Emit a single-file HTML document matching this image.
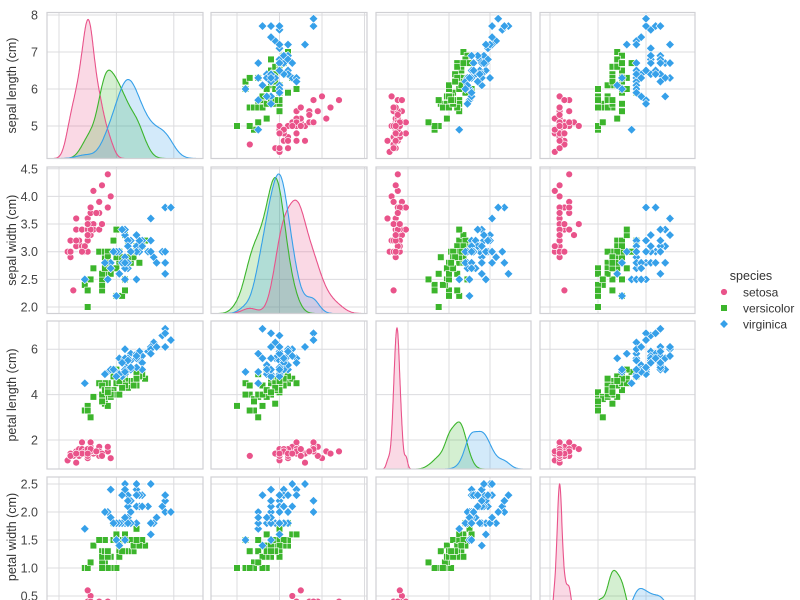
<!DOCTYPE html>
<html><head><meta charset="utf-8"><style>
html,body{margin:0;padding:0;background:#fff;}
svg{display:block;font-family:"Liberation Sans",sans-serif;}
</style></head><body>
<svg id="s" width="800" height="600" viewBox="0 0 800 600" xmlns="http://www.w3.org/2000/svg"></svg>
<script>
const raw={
setosa:`5.1,3.5,1.4,0.2;4.9,3.0,1.4,0.2;4.7,3.2,1.3,0.2;4.6,3.1,1.5,0.2;5.0,3.6,1.4,0.2;5.4,3.9,1.7,0.4;4.6,3.4,1.4,0.3;5.0,3.4,1.5,0.2;4.4,2.9,1.4,0.2;4.9,3.1,1.5,0.1;5.4,3.7,1.5,0.2;4.8,3.4,1.6,0.2;4.8,3.0,1.4,0.1;4.3,3.0,1.1,0.1;5.8,4.0,1.2,0.2;5.7,4.4,1.5,0.4;5.4,3.9,1.3,0.4;5.1,3.5,1.4,0.3;5.7,3.8,1.7,0.3;5.1,3.8,1.5,0.3;5.4,3.4,1.7,0.2;5.1,3.7,1.5,0.4;4.6,3.6,1.0,0.2;5.1,3.3,1.7,0.5;4.8,3.4,1.9,0.2;5.0,3.0,1.6,0.2;5.0,3.4,1.6,0.4;5.2,3.5,1.5,0.2;5.2,3.4,1.4,0.2;4.7,3.2,1.6,0.2;4.8,3.1,1.6,0.2;5.4,3.4,1.5,0.4;5.2,4.1,1.5,0.1;5.5,4.2,1.4,0.2;4.9,3.1,1.5,0.1;5.0,3.2,1.2,0.2;5.5,3.5,1.3,0.2;4.9,3.1,1.5,0.1;4.4,3.0,1.3,0.2;5.1,3.4,1.5,0.2;5.0,3.5,1.3,0.3;4.5,2.3,1.3,0.3;4.4,3.2,1.3,0.2;5.0,3.5,1.6,0.6;5.1,3.8,1.9,0.4;4.8,3.0,1.4,0.3;5.1,3.8,1.6,0.2;4.6,3.2,1.4,0.2;5.3,3.7,1.5,0.2;5.0,3.3,1.4,0.2`,
versicolor:`7.0,3.2,4.7,1.4;6.4,3.2,4.5,1.5;6.9,3.1,4.9,1.5;5.5,2.3,4.0,1.3;6.5,2.8,4.6,1.5;5.7,2.8,4.5,1.3;6.3,3.3,4.7,1.6;4.9,2.4,3.3,1.0;6.6,2.9,4.6,1.3;5.2,2.7,3.9,1.4;5.0,2.0,3.5,1.0;5.9,3.0,4.2,1.5;6.0,2.2,4.0,1.0;6.1,2.9,4.7,1.4;5.6,2.9,3.6,1.3;6.7,3.1,4.4,1.4;5.6,3.0,4.5,1.5;5.8,2.7,4.1,1.0;6.2,2.2,4.5,1.5;5.6,2.5,3.9,1.1;5.9,3.2,4.8,1.8;6.1,2.8,4.0,1.3;6.3,2.5,4.9,1.5;6.1,2.8,4.7,1.2;6.4,2.9,4.3,1.3;6.6,3.0,4.4,1.4;6.8,2.8,4.8,1.4;6.7,3.0,5.0,1.7;6.0,2.9,4.5,1.5;5.7,2.6,3.5,1.0;5.5,2.4,3.8,1.1;5.5,2.4,3.7,1.0;5.8,2.7,3.9,1.2;6.0,2.7,5.1,1.6;5.4,3.0,4.5,1.5;6.0,3.4,4.5,1.6;6.7,3.1,4.7,1.5;6.3,2.3,4.4,1.3;5.6,3.0,4.1,1.3;5.5,2.5,4.0,1.3;5.5,2.6,4.4,1.2;6.1,3.0,4.6,1.4;5.8,2.6,4.0,1.2;5.0,2.3,3.3,1.0;5.6,2.7,4.2,1.3;5.7,3.0,4.2,1.2;5.7,2.9,4.2,1.3;6.2,2.9,4.3,1.3;5.1,2.5,3.0,1.1;5.7,2.8,4.1,1.3`,
virginica:`6.3,3.3,6.0,2.5;5.8,2.7,5.1,1.9;7.1,3.0,5.9,2.1;6.3,2.9,5.6,1.8;6.5,3.0,5.8,2.2;7.6,3.0,6.6,2.1;4.9,2.5,4.5,1.7;7.3,2.9,6.3,1.8;6.7,2.5,5.8,1.8;7.2,3.6,6.1,2.5;6.5,3.2,5.1,2.0;6.4,2.7,5.3,1.9;6.8,3.0,5.5,2.1;5.7,2.5,5.0,2.0;5.8,2.8,5.1,2.4;6.4,3.2,5.3,2.3;6.5,3.0,5.5,1.8;7.7,3.8,6.7,2.2;7.7,2.6,6.9,2.3;6.0,2.2,5.0,1.5;6.9,3.2,5.7,2.3;5.6,2.8,4.9,2.0;7.7,2.8,6.7,2.0;6.3,2.7,4.9,1.8;6.7,3.3,5.7,2.1;7.2,3.2,6.0,1.8;6.2,2.8,4.8,1.8;6.1,3.0,4.9,1.8;6.4,2.8,5.6,2.1;7.2,3.0,5.8,1.6;7.4,2.8,6.1,1.9;7.9,3.8,6.4,2.0;6.4,2.8,5.6,2.2;6.3,2.8,5.1,1.5;6.1,2.6,5.6,1.4;7.7,3.0,6.1,2.3;6.3,3.4,5.6,2.4;6.4,3.1,5.5,1.8;6.0,3.0,4.8,1.8;6.9,3.1,5.4,2.1;6.7,3.1,5.6,2.4;6.9,3.1,5.1,2.3;5.8,2.7,5.1,1.9;6.8,3.2,5.9,2.3;6.7,3.3,5.7,2.5;6.7,3.0,5.2,2.3;6.3,2.5,5.0,1.9;6.5,3.0,5.2,2.0;6.2,3.4,5.4,2.3;5.9,3.0,5.1,1.8`};
const sp=['setosa','versicolor','virginica'];
const col={setosa:'#e9538a',versicolor:'#3cb52c',virginica:'#36a0e9'};
const D={};sp.forEach(k=>D[k]=raw[k].split(';').map(r=>r.split(',').map(Number)));
const X=[v=>59+(v-4)*28.7,v=>237+(v-2)*42.5,v=>408+(v-2)*20.5,v=>550+v*48];
const Y=[v=>15+(8-v)*37,v=>307-(v-2)*55.3,v=>440-(v-2)*22.7,v=>596-(v-0.5)*56];
const C=[[47,203],[211,367],[376,531],[540,695]];
const R=[[12.5,158.5],[167,313.5],[321,469],[477,625]];
const CT=[[4,6,8],[2,3,4,5],[2,4,6],[0,1,2]];
const RT=[[5,6,7,8],[2,2.5,3,3.5,4,4.5],[2,4,6],[0.5,1,1.5,2,2.5]];
const RL=[['5','6','7','8'],['2.0','2.5','3.0','3.5','4.0','4.5'],['2','4','6'],['0.5','1.0','1.5','2.0','2.5']];
const names=['sepal length (cm)','sepal width (cm)','petal length (cm)','petal width (cm)'];
let h='<defs>';
for(let i=0;i<4;i++)for(let j=0;j<4;j++)h+=`<clipPath id="c${i}${j}"><rect x="${C[j][0]}" y="${R[i][0]}" width="${C[j][1]-C[j][0]}" height="${R[i][1]-R[i][0]}"/></clipPath>`;
h+='</defs>';
function mk(s,x,y){const c=col[s];
 if(s==='setosa')return `<circle cx="${x.toFixed(1)}" cy="${y.toFixed(1)}" r="3.4" fill="${c}" stroke="#fff" stroke-width="0.6"/>`;
 if(s==='versicolor')return `<rect x="${(x-3.3).toFixed(1)}" y="${(y-3.3).toFixed(1)}" width="6.6" height="6.6" fill="${c}" stroke="#fff" stroke-width="0.6"/>`;
 const d=4.4;return `<path d="M${x.toFixed(1)} ${(y-d).toFixed(1)}L${(x+d).toFixed(1)} ${y.toFixed(1)}L${x.toFixed(1)} ${(y+d).toFixed(1)}L${(x-d).toFixed(1)} ${y.toFixed(1)}Z" fill="${c}" stroke="#fff" stroke-width="0.6"/>`;}
for(let i=0;i<4;i++)for(let j=0;j<4;j++){
 const [x0,x1]=C[j],[y0,y1]=R[i];
 h+=`<g clip-path="url(#c${i}${j})">`;
 CT[j].forEach(v=>{const x=X[j](v);h+=`<line x1="${x}" x2="${x}" y1="${y0}" y2="${y1}" stroke="#dcdcdf" stroke-width="1"/>`;});
 RT[i].forEach(v=>{const y=Y[i](v);h+=`<line x1="${x0}" x2="${x1}" y1="${y}" y2="${y}" stroke="#dcdcdf" stroke-width="1"/>`;});
 if(i===j){
  const curves=[];let mx=0;
  sp.forEach(s=>{const a=D[s].map(r=>r[j]);const n=a.length;const m=a.reduce((p,q)=>p+q)/n;
   const sd=Math.sqrt(a.reduce((p,q)=>p+(q-m)**2,0)/(n-1));const bw=sd*Math.pow(n,-0.2);
   const lo=Math.min(...a)-3*bw,hi=Math.max(...a)+3*bw;const pts=[];
   for(let k=0;k<=200;k++){const v=lo+(hi-lo)*k/200;let d=0;a.forEach(q=>{const z=(v-q)/bw;d+=Math.exp(-z*z/2);});d/=(n*bw*Math.sqrt(2*Math.PI)*3);pts.push([v,d]);if(d>mx)mx=d;}
   curves.push([s,pts]);});
  const H=y1-y0;
  const path=curves.map(([s,pts])=>[s,pts.map(([v,d])=>`${X[j](v).toFixed(1)},${(y1-d/(mx*1.05)*H).toFixed(1)}`)]);
  path.forEach(([s,p])=>{h+=`<polygon points="${X[j](curves.find(c=>c[0]===s)[1][0][0]).toFixed(1)},${y1} ${p.join(' ')} ${X[j](curves.find(c=>c[0]===s)[1][200][0]).toFixed(1)},${y1}" fill="${col[s]}" fill-opacity="0.22" stroke="none"/>`;});
  path.forEach(([s,p])=>{h+=`<polyline points="${p.join(' ')}" fill="none" stroke="${col[s]}" stroke-width="1.1"/>`;});
 } else {
  sp.forEach(s=>D[s].forEach(r=>{h+=mk(s,X[j](r[j]),Y[i](r[i]));}));
 }
 h+='</g>';
 h+=`<rect x="${x0}" y="${y0}" width="${x1-x0}" height="${y1-y0}" fill="none" stroke="#d0d0d4" stroke-width="1.2"/>`;
}
for(let i=0;i<4;i++){
 RT[i].forEach((v,k)=>{h+=`<text x="38" y="${(Y[i](v)+4.5).toFixed(1)}" text-anchor="end" font-size="12.5" fill="#444">${RL[i][k]}</text>`;});
 const cy=(R[i][0]+Math.min(R[i][1],600))/2; const yc=i===3?537:cy;
 h+=`<text transform="translate(16,${yc}) rotate(-90)" text-anchor="middle" font-size="12.5" fill="#333">${names[i]}</text>`;
}
h+=`<text x="751" y="280" text-anchor="middle" font-size="12.5" fill="#333">species</text>`;
h+=mk('setosa',724,292)+`<text x="743" y="296.5" font-size="12" fill="#333">setosa</text>`;
h+=mk('versicolor',724,308)+`<text x="743" y="312.5" font-size="12" fill="#333">versicolor</text>`;
h+=mk('virginica',724,324)+`<text x="743" y="328.5" font-size="12" fill="#333">virginica</text>`;
document.getElementById('s').innerHTML=h;
</script>
</body></html>
